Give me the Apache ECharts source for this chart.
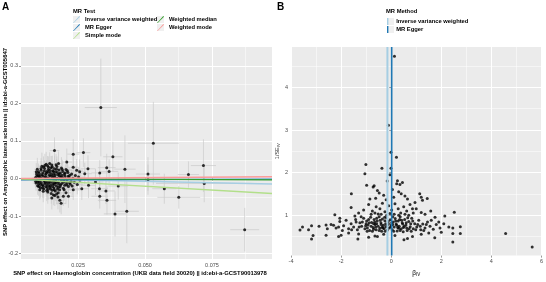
<!DOCTYPE html>
<html>
<head>
<meta charset="utf-8">
<script src="https://cdn.jsdelivr.net/npm/echarts@6/dist/echarts.min.js"></script>
<style>
  html, body { margin: 0; padding: 0; background: #fff; }
  #chart { width: 546px; height: 282px; }
</style>
</head>
<body>
<div id="chart"></div>
<script>
// panel A: per-SNP effects [bx, by, se(bx), se(by)]
const snps = [
  [0.0095,0.012,0.0012,0.018],[0.0102,0.018,0.0011,0.022],[0.0108,0.008,0.0013,0.016],[0.0112,0.022,0.0010,0.025],
  [0.0118,0.015,0.0012,0.019],[0.0121,0.031,0.0011,0.028],[0.0125,0.027,0.0014,0.021],[0.0129,0.011,0.0012,0.017],
  [0.0133,0.019,0.0013,0.030],[0.0136,0.034,0.0011,0.026],[0.0139,0.024,0.0015,0.020],[0.0142,0.009,0.0012,0.015],
  [0.0146,0.016,0.0013,0.023],[0.0149,0.029,0.0014,0.031],[0.0152,0.036,0.0012,0.024],[0.0155,0.021,0.0016,0.019],
  [0.0159,0.013,0.0013,0.017],[0.0162,0.026,0.0014,0.034],[0.0166,0.018,0.0012,0.021],[0.0171,0.032,0.0015,0.027],
  [0.0175,0.010,0.0013,0.018],[0.0179,0.023,0.0016,0.022],[0.0184,0.015,0.0014,0.020],[0.0188,0.028,0.0017,0.029],
  [0.0193,0.019,0.0015,0.024],[0.0199,0.012,0.0016,0.016],[0.0205,0.024,0.0018,0.026],[0.0212,0.016,0.0017,0.021],
  [0.0219,0.009,0.0019,0.019],[0.0098,0.025,0.0011,0.030],[0.0115,0.033,0.0012,0.036],[0.0131,0.038,0.0013,0.033],
  [0.0144,0.040,0.0014,0.030],[0.0168,0.037,0.0015,0.028],[0.0104,0.005,0.0012,0.014],[0.0127,0.004,0.0013,0.013],
  [0.0157,0.006,0.0014,0.015],[0.0186,0.004,0.0016,0.014],[0.0201,0.007,0.0017,0.016],
  [0.0091,0.002,0.0011,0.016],[0.0097,-0.004,0.0012,0.019],[0.0101,0.008,0.0010,0.021],[0.0106,-0.008,0.0013,0.017],
  [0.0111,0.001,0.0012,0.015],[0.0114,-0.003,0.0011,0.022],[0.0119,0.006,0.0013,0.018],[0.0123,-0.006,0.0012,0.020],
  [0.0128,-0.001,0.0014,0.016],[0.0132,0.003,0.0013,0.024],[0.0135,-0.009,0.0012,0.019],[0.0140,0.000,0.0014,0.014],
  [0.0143,-0.005,0.0013,0.021],[0.0147,0.007,0.0015,0.017],[0.0151,-0.002,0.0014,0.026],[0.0154,0.002,0.0013,0.015],
  [0.0158,-0.007,0.0015,0.020],[0.0163,0.004,0.0014,0.018],[0.0167,-0.004,0.0016,0.023],[0.0172,0.001,0.0015,0.016],
  [0.0177,-0.009,0.0014,0.021],[0.0181,0.006,0.0016,0.019],[0.0187,-0.003,0.0017,0.015],[0.0192,0.002,0.0015,0.022],
  [0.0197,-0.006,0.0018,0.018],[0.0203,0.000,0.0017,0.017],[0.0209,-0.004,0.0019,0.020],[0.0216,0.003,0.0018,0.016],
  [0.0224,-0.008,0.0020,0.023],[0.0231,0.001,0.0021,0.019],
  [0.0093,-0.012,0.0012,0.020],[0.0099,-0.019,0.0011,0.024],[0.0103,-0.014,0.0013,0.018],[0.0109,-0.024,0.0012,0.027],
  [0.0113,-0.011,0.0011,0.016],[0.0117,-0.017,0.0013,0.022],[0.0122,-0.027,0.0012,0.025],[0.0126,-0.013,0.0014,0.019],
  [0.0130,-0.021,0.0013,0.021],[0.0134,-0.016,0.0012,0.017],[0.0138,-0.029,0.0014,0.028],[0.0141,-0.012,0.0013,0.015],
  [0.0145,-0.023,0.0015,0.023],[0.0148,-0.018,0.0014,0.020],[0.0153,-0.031,0.0013,0.026],[0.0156,-0.014,0.0015,0.018],
  [0.0160,-0.025,0.0014,0.024],[0.0164,-0.011,0.0016,0.016],[0.0169,-0.020,0.0015,0.021],[0.0173,-0.028,0.0014,0.027],
  [0.0178,-0.015,0.0016,0.019],[0.0183,-0.022,0.0017,0.022],[0.0189,-0.013,0.0015,0.017],[0.0195,-0.026,0.0018,0.025],
  [0.0200,-0.018,0.0017,0.020],[0.0207,-0.012,0.0019,0.016],[0.0214,-0.021,0.0018,0.023],[0.0221,-0.015,0.0020,0.018],
  [0.0107,-0.030,0.0012,0.026],[0.0120,-0.034,0.0013,0.029],[0.0137,-0.036,0.0014,0.031],[0.0150,-0.040,0.0015,0.027],
  [0.0165,-0.033,0.0016,0.025],[0.0176,-0.038,0.0015,0.030],
  [0.0096,0.006,0.0011,0.017],[0.0100,-0.009,0.0012,0.019],[0.0105,0.014,0.0012,0.020],[0.0110,-0.016,0.0013,0.022],
  [0.0116,0.010,0.0012,0.018],[0.0120,-0.020,0.0013,0.024],[0.0124,0.020,0.0012,0.021],[0.0127,-0.010,0.0013,0.017],
  [0.0131,0.014,0.0014,0.019],[0.0134,-0.024,0.0013,0.025],[0.0138,0.017,0.0014,0.020],[0.0141,-0.019,0.0013,0.022],
  [0.0144,0.022,0.0014,0.026],[0.0148,-0.010,0.0015,0.018],[0.0151,0.011,0.0014,0.016],[0.0155,-0.021,0.0015,0.023],
  [0.0158,0.019,0.0014,0.021],[0.0161,-0.016,0.0015,0.019],[0.0165,0.010,0.0016,0.017],[0.0169,-0.012,0.0015,0.020],
  [0.0173,0.016,0.0016,0.022],[0.0176,-0.023,0.0015,0.024],[0.0180,0.012,0.0017,0.018],[0.0185,-0.017,0.0016,0.021],
  [0.0190,0.009,0.0017,0.019],[0.0196,-0.010,0.0018,0.020],[0.0202,0.015,0.0018,0.022],[0.0208,-0.017,0.0019,0.021],
  [0.0213,0.006,0.0019,0.018],[0.0218,-0.011,0.0020,0.020],[0.0092,-0.007,0.0011,0.018],[0.0094,0.018,0.0011,0.023],
  [0.0103,-0.021,0.0012,0.025],[0.0112,0.027,0.0012,0.027],[0.0117,-0.025,0.0013,0.026],[0.0126,0.035,0.0013,0.031],
  [0.0133,-0.032,0.0014,0.028],[0.0140,0.030,0.0014,0.029],[0.0147,-0.027,0.0015,0.027],[0.0154,0.031,0.0015,0.030],
  [0.0161,-0.030,0.0016,0.028],[0.0170,0.025,0.0016,0.027],[0.0181,-0.030,0.0017,0.029],[0.0191,0.024,0.0017,0.026],
  [0.0198,-0.030,0.0018,0.028],[0.0210,0.021,0.0019,0.025],[0.0226,0.012,0.0020,0.022],[0.0228,-0.020,0.0021,0.024],
  [0.0236,-0.010,0.0022,0.023],[0.0240,0.008,0.0022,0.025],[0.0247,-0.016,0.0023,0.026],[0.0252,0.004,0.0023,0.024],
  [0.0152,-0.052,0.0016,0.030],[0.0163,-0.045,0.0017,0.028],[0.0175,-0.049,0.0016,0.033],[0.0187,-0.066,0.0018,0.029],
  [0.0195,-0.047,0.0019,0.026],[0.0214,-0.047,0.0020,0.031],[0.0232,-0.030,0.0022,0.027],[0.0264,-0.027,0.0025,0.030],
  [0.0289,-0.018,0.0028,0.034],[0.0182,-0.058,0.0017,0.032],[0.0170,-0.041,0.0016,0.028],[0.0205,-0.038,0.0019,0.030],
  [0.0158,-0.044,0.0015,0.027],[0.0257,-0.004,0.0024,0.028],
  [0.0162,0.0745,0.0018,0.035],[0.0232,0.065,0.0022,0.040],[0.0270,0.069,0.0026,0.038],[0.0177,0.040,0.0016,0.032],
  [0.0208,0.044,0.0019,0.036],[0.0245,0.022,0.0023,0.030],[0.0256,0.018,0.0024,0.033],[0.0275,0.013,0.0026,0.029],
  [0.0232,0.030,0.0021,0.034],[0.0287,0.026,0.0027,0.036],[0.0315,-0.009,0.0030,0.035],[0.0331,0.015,0.0031,0.034],
  [0.0357,0.029,0.0033,0.037],[0.0366,0.019,0.0034,0.032],[0.0330,-0.027,0.0031,0.036],[0.0354,-0.033,0.0033,0.035],
  [0.0331,-0.047,0.0031,0.033],[0.0358,-0.058,0.0034,0.038],[0.0400,-0.020,0.0037,0.036],[0.0380,0.058,0.0036,0.040],
  [0.0335,0.189,0.0060,0.130],[0.0425,0.025,0.0040,0.090],[0.0388,-0.094,0.0042,0.060],[0.0432,-0.087,0.0045,0.085],
  [0.0511,0.012,0.0045,0.045],[0.0511,-0.003,0.0050,0.040],[0.0531,0.094,0.0095,0.110],[0.0572,-0.027,0.0045,0.040],
  [0.0626,-0.050,0.0080,0.030],[0.0662,0.0106,0.0040,0.035],[0.0718,0.0345,0.0047,0.070],[0.0721,-0.013,0.0180,0.050],
  [0.0872,-0.136,0.0054,0.058]
];

// MR estimates: lines are intercept + slope * bx
const methods = ['Inverse variance weighted', 'MR Egger', 'Simple mode', 'Weighted median', 'Weighted mode'];
const methodColors = ['#a6cee3', '#1f78b4', '#b2df8a', '#33a02c', '#fb9a99'];
const slopes = [-0.15, 0.02, -0.41, -0.035, 0.05];
const intercepts = [0, -0.0035, 0, 0, 0];

// panel B: funnel [beta_IV, 1/SE_IV]
const funnel = [
  [0.13,4.73],[-0.11,3.11],[-0.01,2.48],[0.21,2.36],[-1.01,2.19],[-0.37,2.10],[-0.01,2.10],[-1.05,1.97],
  [-0.05,1.95],[-0.16,1.80],[0.25,1.81],[0.45,1.77],[0.35,1.72],[0.22,1.74],[-0.98,1.70],[-0.68,1.69],
  [-0.72,1.66],[-1.59,1.50],[1.44,1.39],[1.14,1.50],[1.20,1.42],[1.25,1.35],[-0.55,1.58],[-0.48,1.52],
  [-0.30,1.47],[0.05,1.60],[0.30,1.55],[0.40,1.50],[0.55,1.45],[-0.62,1.40],[-0.85,1.38],[-0.20,1.36],
  [0.10,1.42],[0.65,1.38],
  [2.52,1.07],[1.58,1.10],[1.20,1.06],[2.14,0.98],[-2.25,1.01],[-2.05,0.93],[-1.60,1.18],[-1.30,1.05],
  [-1.10,1.12],[-0.90,1.25],[-0.75,1.10],[-0.60,1.20],[-0.45,1.15],[-0.35,1.28],[-0.25,1.08],[-0.10,1.22],
  [0.02,1.12],[0.15,1.27],[0.28,1.15],[0.38,1.05],[0.50,1.20],[0.62,1.10],[0.75,1.25],[0.88,1.05],
  [1.00,1.15],[0.95,1.30],[-0.80,1.02],[-0.52,1.03],[-0.18,1.00],[0.12,1.02],[0.70,1.00],[1.35,1.02],
  [1.75,0.95],[-1.45,0.98],
  [-2.40,0.78],[-2.20,0.70],[-2.05,0.85],[-1.90,0.75],[-1.80,0.88],[-1.70,0.68],[-1.60,0.80],[-1.50,0.72],
  [-1.42,0.90],[-1.35,0.66],[-1.25,0.82],[-1.18,0.74],[-1.10,0.93],[-1.05,0.68],[-0.98,0.86],[-0.92,0.77],
  [-0.86,0.64],[-0.82,0.95],[-0.78,0.83],[-0.72,0.71],[-0.68,0.90],[-0.64,0.78],[-0.60,0.66],[-0.56,0.86],
  [-0.52,0.74],[-0.48,0.96],[-0.45,0.69],[-0.41,0.82],[-0.38,0.62],[-0.35,0.91],[-0.31,0.76],[-0.28,0.68],
  [-0.25,0.87],[-0.21,0.73],[-0.18,0.94],[-0.15,0.65],[-0.11,0.80],[-0.08,0.70],[-0.04,0.89],[0.00,0.76],
  [0.04,0.66],[0.08,0.84],[0.12,0.72],[0.16,0.92],[0.20,0.79],[0.24,0.63],[0.28,0.86],[0.32,0.74],
  [0.36,0.96],[0.40,0.68],[0.44,0.82],[0.49,0.71],[0.54,0.90],[0.59,0.77],[0.64,0.64],[0.70,0.85],
  [0.76,0.73],[0.82,0.93],[0.88,0.68],[0.94,0.80],[1.02,0.72],[1.10,0.88],[1.18,0.66],[1.26,0.79],
  [1.35,0.70],[1.45,0.84],[1.55,0.74],[1.68,0.67],[1.80,0.78],[1.95,0.70],[2.10,0.80],[2.30,0.72],
  [-0.95,0.70],[-0.62,0.72],[-0.33,0.70],[-0.02,0.72],[0.30,0.69],[0.62,0.70],[-0.75,0.62],[-0.48,0.64],
  [0.10,0.62],[0.48,0.61],[-1.00,0.80],[-0.70,0.80],[-0.40,0.78],[-0.12,0.85],[0.18,0.86],[0.46,0.79],
  [0.78,0.80],
  [-0.90,0.90],[-0.58,0.93],[-0.26,0.95],[0.06,0.96],[0.34,0.90],[0.66,0.94],[-1.15,0.84],[-0.88,0.82],
  [-0.66,0.84],[-0.44,0.88],[-0.22,0.80],[0.02,0.82],[0.22,0.76],[0.42,0.88],[0.60,0.82],[0.86,0.86],
  [1.06,0.78],[-1.28,0.72],[-1.02,0.75],[-0.80,0.74],[-0.58,0.80],[-0.36,0.72],[-0.16,0.76],[0.06,0.78],
  [0.26,0.71],[0.52,0.74],[0.72,0.68],[0.98,0.66],[1.16,0.74],[1.40,0.78],[-1.58,0.66],[-0.96,0.62],
  [-0.70,0.67],[-0.24,0.62],[0.36,0.64],[0.80,0.62],[1.30,0.64],[-2.10,0.72],[-2.55,0.68],[-1.95,0.64],
  [1.60,0.88],[1.90,0.84],[-1.20,0.96],[-0.40,1.02],[0.30,1.00],[0.55,1.02],[-0.65,1.05],[0.85,1.15],
  [-0.05,1.04],[-1.40,0.84],
  [-3.64,0.65],[-3.54,0.72],[-3.18,0.75],[-3.18,0.44],[-3.12,0.52],[-2.60,0.53],[-2.10,0.50],[-2.00,0.53],
  [-1.33,0.44],[-0.90,0.48],[-0.65,0.51],[0.51,0.42],[1.74,0.47],[2.46,0.37],[2.46,0.57],[2.76,0.57],
  [2.76,0.73],[2.46,0.70],[4.57,0.57],[5.63,0.25],[-2.88,0.74],[-2.60,0.77],[-2.30,0.76],[-3.30,0.66],
  [-0.30,0.55],[0.15,0.52],[0.85,0.50],[1.20,0.55],[-1.70,0.58],[-1.30,0.56],[0.65,0.45],[-0.55,0.50],
  [2.00,0.60],[1.50,0.58]
];
const funnelMethods = ['Inverse variance weighted', 'MR Egger'];
const funnelEstimates = [-0.15, 0.02];

// axis ranges and gridlines
const xRangeA = [0.0037, 0.0974];
const yRangeA = [-0.214, 0.35];
const xMajorA = [0.025, 0.05, 0.075];
const xMinorA = [0.0125, 0.0375, 0.0625, 0.0875];
const yMajorA = [-0.2, -0.1, 0, 0.1, 0.2, 0.3];
const yMinorA = [-0.15, -0.05, 0.05, 0.15, 0.25];
const xRangeB = [-4, 6];
const yRangeB = [0.05, 4.95];
const yMajorB = [1, 2, 3, 4];
const yMinorB = [0.5, 1.5, 2.5, 3.5, 4.5];

const FONT = 'Liberation Sans, Arial, sans-serif';
const tickLabel = { fontSize: 5.5, color: '#4d4d4d', fontFamily: FONT, margin: 3 };
const tick = { length: 2, lineStyle: { color: '#333', width: 0.5 } };
const diag = 'path://M0,10L9,0L10,1L1,10Z';
const vbar = 'path://M4,0L6,0L6,10L4,10Z';

function majorAxis(grid, range, values, fmt) {
  return {
    type: 'value', gridIndex: grid, min: range[0], max: range[1],
    axisLine: { show: false },
    axisTick: Object.assign({ customValues: values }, tick),
    axisLabel: Object.assign({ customValues: values, formatter: fmt }, tickLabel),
    splitLine: { show: true, lineStyle: { color: '#fff', width: 1 } }
  };
}
function minorAxis(grid, range, values) {
  return {
    type: 'value', gridIndex: grid, min: range[0], max: range[1],
    axisLine: { show: false },
    axisTick: { show: false, customValues: values },
    axisLabel: { show: false },
    splitLine: { show: true, lineStyle: { color: '#fff', width: 0.5 } }
  };
}

const chart = echarts.init(document.getElementById('chart'));

const series = [];
series.push({
  type: 'custom', name: 'errors', xAxisIndex: 0, yAxisIndex: 0, silent: true,
  encode: { x: 0, y: 1 },
  data: snps,
  renderItem: function (params, api) {
    const x = api.value(0), y = api.value(1), sx = api.value(2), sy = api.value(3);
    const l = api.coord([x - sx, y]), r = api.coord([x + sx, y]);
    const t = api.coord([x, y + sy]), b = api.coord([x, y - sy]);
    const style = { stroke: '#cacaca', lineWidth: 0.7 };
    return { type: 'group', children: [
      { type: 'line', shape: { x1: l[0], y1: l[1], x2: r[0], y2: r[1] }, style: style },
      { type: 'line', shape: { x1: t[0], y1: t[1], x2: b[0], y2: b[1] }, style: style }
    ] };
  }
});
series.push({
  type: 'scatter', name: 'snp', xAxisIndex: 0, yAxisIndex: 0, silent: true,
  symbolSize: 3, itemStyle: { color: '#000' },
  data: snps.map(d => [d[0], d[1]])
});
methods.forEach((m, i) => {
  series.push({
    type: 'line', name: m, xAxisIndex: 0, yAxisIndex: 0, silent: true,
    symbol: 'none', color: methodColors[i],
    lineStyle: { color: methodColors[i], width: 1.4 },
    data: xRangeA.map(x => [x, intercepts[i] + slopes[i] * x])
  });
});
series.push({
  type: 'scatter', name: 'funnel', xAxisIndex: 2, yAxisIndex: 2, silent: true,
  symbolSize: 3, itemStyle: { color: '#000' },
  data: funnel
});
funnelMethods.forEach((m, i) => {
  const c = methodColors[methods.indexOf(m)];
  series.push({
    type: 'line', name: m, xAxisIndex: 2, yAxisIndex: 2, silent: true,
    symbol: 'none', color: c,
    lineStyle: { color: c, width: i === 0 ? 2 : 1.6 },
    data: yRangeB.map(y => [funnelEstimates[i], y])
  });
});

const legendText = { fontSize: 5.8, fontWeight: 'bold', color: '#000', fontFamily: FONT };
function legend(left, top, names, icon) {
  return {
    left: left, top: top, orient: 'vertical', itemWidth: 7, itemHeight: 7, itemGap: 1,
    textStyle: legendText, selectedMode: false, padding: 0,
    data: names.map(n => ({ name: n, icon: icon }))
  };
}
function keyBox(x, y) {
  return { type: 'rect', z: 0, shape: { x: x, y: y, width: 7, height: 7 }, style: { fill: '#f0f0f0' } };
}

chart.setOption({
  animation: false,
  grid: [
    { left: 21, top: 47, width: 251, height: 212, show: true, backgroundColor: '#ebebeb', borderWidth: 0 },
    { left: 291, top: 47, width: 253, height: 219, show: true, backgroundColor: '#ebebeb', borderWidth: 0 }
  ],
  xAxis: [
    majorAxis(0, xRangeA, xMajorA, v => v.toFixed(3)),
    minorAxis(0, xRangeA, xMinorA),
    {
      type: 'value', gridIndex: 1, min: xRangeB[0], max: xRangeB[1], interval: 2,
      axisLine: { show: false }, axisTick: tick,
      axisLabel: Object.assign({}, tickLabel),
      splitLine: { show: true, lineStyle: { color: '#fff', width: 1 } },
      minorTick: { show: false, splitNumber: 2 },
      minorSplitLine: { show: true, lineStyle: { color: '#fff', width: 0.5 } },
      name: '{b|β}{s|IV}', nameLocation: 'middle', nameGap: 12,
      nameTextStyle: { rich: {
        b: { fontSize: 6.5, fontFamily: FONT, color: '#000' },
        s: { fontSize: 4.5, fontFamily: FONT, color: '#000', padding: [3, 0, 0, 0] }
      } }
    }
  ],
  yAxis: [
    majorAxis(0, yRangeA, yMajorA, v => v.toFixed(1)),
    minorAxis(0, yRangeA, yMinorA),
    Object.assign(majorAxis(1, yRangeB, yMajorB, v => String(v)), {
      name: '1/SE{s|IV}', nameLocation: 'middle', nameGap: 8, nameRotate: 90,
      nameTextStyle: { fontSize: 5.5, fontFamily: FONT, color: '#333', rich: {
        s: { fontSize: 4, fontFamily: FONT, color: '#333', padding: [3, 0, 0, 0] }
      } }
    }),
    minorAxis(1, yRangeB, yMinorB)
  ],
  legend: [
    legend(73, 16, methods.slice(0, 3), diag),
    legend(157, 16, methods.slice(3), diag),
    legend(387, 18, funnelMethods, vbar)
  ],
  graphic: [
    keyBox(73, 16), keyBox(73, 24), keyBox(73, 32), keyBox(157, 16), keyBox(157, 24),
    keyBox(387, 18), keyBox(387, 26),
    { type: 'text', left: 2, top: 2, style: { text: 'A', font: 'bold 10px ' + FONT, fill: '#000' } },
    { type: 'text', left: 277, top: 2, style: { text: 'B', font: 'bold 10px ' + FONT, fill: '#000' } },
    { type: 'text', left: 73, top: 8, style: { text: 'MR Test', font: 'bold 5.8px ' + FONT, fill: '#000' } },
    { type: 'text', left: 386, top: 8, style: { text: 'MR Method', font: 'bold 5.8px ' + FONT, fill: '#000' } },
    { type: 'text', x: 5, y: 142, rotation: Math.PI / 2,
      style: { text: 'SNP effect on Amyotrophic lateral sclerosis || id:ebi-a-GCST005647',
        font: 'bold 5.9px ' + FONT, fill: '#000', align: 'center', verticalAlign: 'middle' } },
    { type: 'text', x: 140, y: 273,
      style: { text: 'SNP effect on Haemoglobin concentration (UKB data field 30020) || id:ebi-a-GCST90013978',
        font: 'bold 5.9px ' + FONT, fill: '#000', align: 'center', verticalAlign: 'middle' } }
  ],
  series: series
});
</script>
</body>
</html>
